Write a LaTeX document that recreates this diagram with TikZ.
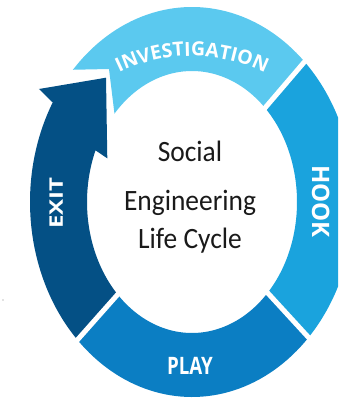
\documentclass[tikz,border=0pt]{standalone}
\usepackage{fontspec}
\usetikzlibrary{decorations.text}
\newfontfamily\cyclefont[FakeStretch=0.93]{Carlito}
\newfontfamily\labelfont{Open Sans}
\definecolor{invcol}{HTML}{5BC9EF}
\definecolor{hookcol}{HTML}{1AA3DD}
\definecolor{playcol}{HTML}{0B7EC3}
\definecolor{exitcol}{HTML}{045085}
\definecolor{textcol}{HTML}{1A1A1A}
\tikzset{
  gapline/.style={white, line width=5pt},
  centertext/.style={anchor=base, text=textcol, font=\cyclefont\fontsize{29.5}{32}\selectfont, inner sep=0pt},
  bandlabel/.style={anchor=base, text=white, font=\labelfont\bfseries\fontsize{24}{26}\selectfont, inner sep=0pt}
}
\begin{document}
\begin{tikzpicture}[x=1pt,y=1pt]
\useasboundingbox (-192,-197) rectangle (146,202);
\begin{scope}
\clip (-192,-197) rectangle (146,202);
% HOOK
\fill[hookcol] (-44:162 and 195) arc[start angle=-44,end angle=46,x radius=162,y radius=195]
  -- (46:105 and 131) arc[start angle=46,end angle=-44,x radius=105,y radius=131] -- cycle;
% PLAY
\fill[playcol] (-135:162 and 195) arc[start angle=-135,end angle=-44,x radius=162,y radius=195]
  -- (-44:105 and 131) arc[start angle=-44,end angle=-135,x radius=105,y radius=131] -- cycle;
% INVESTIGATION
\fill[invcol] (46:162 and 195) arc[start angle=46,end angle=137.3,x radius=162,y radius=195]
  -- (-83,133) -- (137.6:105 and 131) arc[start angle=137.6,end angle=46,x radius=105,y radius=131] -- cycle;
% EXIT arrow
\fill[exitcol] (225:162 and 195) arc[start angle=225,end angle=149.3,x radius=162,y radius=195]
  -- (-153,113) -- (-86,124.3) -- (-84.7,43.7)
  -- (156.8:105 and 131) arc[start angle=156.8,end angle=225,x radius=105,y radius=131] -- cycle;
% gaps
\draw[gapline] (46:100 and 125) -- (46:170 and 204);
\draw[gapline] (-44:100 and 125) -- (-44:170 and 204);
\draw[gapline] (-135:100 and 125) -- (-135:170 and 204);
% stray dot
\fill[gray] (-189,-98) circle (0.7);
\end{scope}
% center text
\node[centertext] (social) at (-2,40.3) {Social};
\node[centertext] (engineering) at (-2,-8) {Engineering};
\node[centertext] (lifecycle) at (-2,-46.3) {Life Cycle};
% band labels
\path[decorate, decoration={text along path, text align=center,
  text={|\labelfont\bfseries\fontsize{19.5}{21}\selectfont\color{white}|INVESTIGATION}}]
  (120:166) ++(0,-20) arc[start angle=120,end angle=60,radius=166];
\node[bandlabel, rotate=-90] (hook) at (120,0.5) {HOOK};
\node[bandlabel, xscale=0.78] (play) at (-2,-172) {PLAY};
\node[bandlabel, rotate=90, yscale=0.78] (exit) at (-129,-1) {EXIT};
\end{tikzpicture}
\end{document}
